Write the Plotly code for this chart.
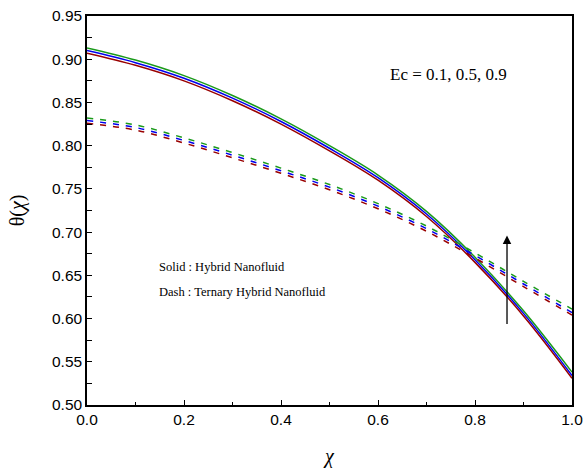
import plotly.graph_objects as go

chi = [0.0, 0.1, 0.2, 0.3, 0.4, 0.5, 0.6, 0.7, 0.8, 0.9, 1.0]

# Solid: Hybrid nanofluid, Ec = 0.1 (red), 0.5 (blue), 0.9 (green)
solid_ec01 = [0.907, 0.893, 0.875, 0.852, 0.825, 0.794, 0.760, 0.718, 0.665, 0.603, 0.531]
solid_ec05 = [0.910, 0.896, 0.878, 0.855, 0.828, 0.797, 0.763, 0.721, 0.668, 0.606, 0.534]
solid_ec09 = [0.913, 0.899, 0.881, 0.858, 0.831, 0.800, 0.766, 0.724, 0.671, 0.609, 0.538]

# Dash: Ternary hybrid nanofluid
dash_ec01 = [0.826, 0.818, 0.803, 0.786, 0.768, 0.749, 0.727, 0.701, 0.670, 0.637, 0.604]
dash_ec05 = [0.829, 0.821, 0.806, 0.789, 0.771, 0.752, 0.730, 0.704, 0.673, 0.640, 0.607]
dash_ec09 = [0.832, 0.824, 0.809, 0.792, 0.774, 0.755, 0.733, 0.707, 0.676, 0.643, 0.611]

x_ticks = [0.0, 0.2, 0.4, 0.6, 0.8, 1.0]
y_ticks = [0.50, 0.55, 0.60, 0.65, 0.70, 0.75, 0.80, 0.85, 0.90, 0.95]

RED = "#990000"
BLUE = "#0000ee"
GREEN = "#1a9a1a"

fig = go.Figure()
for ys, col in [(solid_ec01, RED), (solid_ec05, BLUE), (solid_ec09, GREEN)]:
    fig.add_trace(go.Scatter(x=chi, y=ys, mode="lines", line=dict(color=col, width=1.5, shape="spline"),
                             showlegend=False))
for ys, col in [(dash_ec01, RED), (dash_ec05, BLUE), (dash_ec09, GREEN)]:
    fig.add_trace(go.Scatter(x=chi, y=ys, mode="lines", line=dict(color=col, width=1.5, dash="6px,7px", shape="spline"),
                             showlegend=False))

# arrow
fig.add_annotation(x=0.866, y=0.696, ax=0.866, ay=0.592, xref="x", yref="y", axref="x", ayref="y",
                   text="", showarrow=True, arrowhead=2, arrowsize=1.3, arrowwidth=1.3, arrowcolor="black")

serif = "Liberation Serif, Times New Roman, serif"
fig.add_annotation(x=0.745, y=0.882, xref="x", yref="y", text="Ec = 0.1, 0.5, 0.9", showarrow=False,
                   font=dict(family=serif, size=17, color="black"))
fig.add_annotation(x=0.145, y=0.660, xref="x", yref="y", text="Solid : Hybrid Nanofluid", showarrow=False,
                   xanchor="left", font=dict(family=serif, size=12.5, color="black"))
fig.add_annotation(x=0.145, y=0.631, xref="x", yref="y", text="Dash : Ternary Hybrid Nanofluid", showarrow=False,
                   xanchor="left", font=dict(family=serif, size=12.5, color="black"))

axis_font = dict(family="Liberation Sans, Arial, sans-serif", size=15.5, color="black")
fig.update_xaxes(range=[0, 1.0], tickvals=x_ticks, ticktext=[f"{v:.1f}" for v in x_ticks],
                 ticks="inside", ticklen=5, tickcolor="black", tickwidth=1.2, automargin=False,
                 minor=dict(ticks="inside", ticklen=3, dtick=0.1, tickcolor="black", tickwidth=1.2, showgrid=False),
                 showline=True, linecolor="black", linewidth=1.5, mirror=True, showgrid=False, zeroline=False,
                 tickfont=axis_font,
                 title=dict(text="<i>χ</i>", font=dict(family=serif, size=20, color="black"), standoff=22))
fig.update_yaxes(range=[0.50, 0.95], tickvals=y_ticks, ticktext=[f"{v:.2f}" for v in y_ticks],
                 ticks="inside", ticklen=5, tickcolor="black", tickwidth=1.2, automargin=False,
                 minor=dict(ticks="inside", ticklen=5, dtick=0.025, tickcolor="black", tickwidth=1.2, showgrid=False),
                 showline=True, linecolor="black", linewidth=1.5, mirror=True, showgrid=False, zeroline=False,
                 tickfont=axis_font,
                 title=dict(text="θ(<i>χ</i>)", font=dict(family=serif, size=20, color="black"), standoff=22))

fig.update_layout(width=584, height=470, margin=dict(l=87, r=12, t=16, b=65),
                  paper_bgcolor="white", plot_bgcolor="white")
fig.write_html("out.html")
